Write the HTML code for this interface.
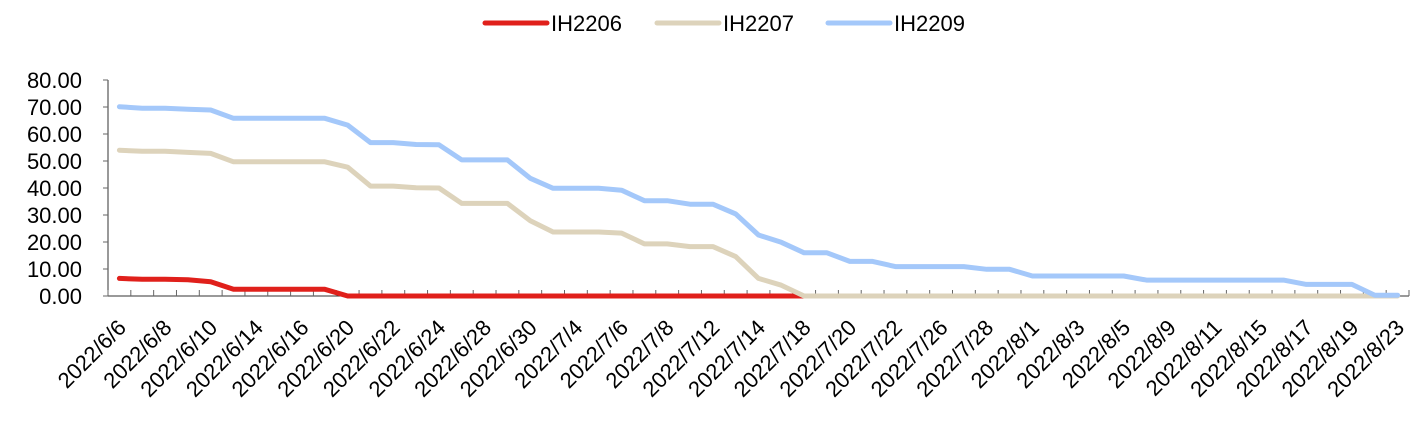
<!DOCTYPE html>
<html><head><meta charset="utf-8"><style>
html,body{margin:0;padding:0;background:#fff;}
svg{display:block;font-family:"Liberation Sans",Arial,sans-serif;}
</style></head><body>
<svg id="chart" width="1425" height="426"></svg>
<script>
const categories=["2022/6/6","2022/6/7","2022/6/8","2022/6/9","2022/6/10","2022/6/13","2022/6/14","2022/6/15","2022/6/16","2022/6/17","2022/6/20","2022/6/21","2022/6/22","2022/6/23","2022/6/24","2022/6/27","2022/6/28","2022/6/29","2022/6/30","2022/7/1","2022/7/4","2022/7/5","2022/7/6","2022/7/7","2022/7/8","2022/7/11","2022/7/12","2022/7/13","2022/7/14","2022/7/15","2022/7/18","2022/7/19","2022/7/20","2022/7/21","2022/7/22","2022/7/25","2022/7/26","2022/7/27","2022/7/28","2022/7/29","2022/8/1","2022/8/2","2022/8/3","2022/8/4","2022/8/5","2022/8/8","2022/8/9","2022/8/10","2022/8/11","2022/8/12","2022/8/15","2022/8/16","2022/8/17","2022/8/18","2022/8/19","2022/8/22","2022/8/23"];
const ih2206=[6.5,6.2,6.2,6.0,5.3,2.5,2.5,2.5,2.5,2.5,0,0,0,0,0,0,0,0,0,0,0,0,0,0,0,0,0,0,0,0,0];
const ih2207=[54,53.6,53.6,53.2,52.8,49.7,49.7,49.7,49.7,49.7,47.7,40.7,40.7,40.1,40,34.3,34.3,34.3,27.9,23.7,23.7,23.7,23.3,19.3,19.3,18.3,18.3,14.6,6.5,4,0,0,0,0,0,0,0,0,0,0,0,0,0,0,0,0,0,0,0,0,0,0,0,0,0,0,0];
const ih2209=[70.1,69.5,69.5,69.2,68.9,65.8,65.8,65.8,65.8,65.8,63.3,56.8,56.8,56.1,56,50.4,50.4,50.4,43.6,39.9,39.9,39.9,39.2,35.3,35.3,34,34,30.4,22.6,19.9,16,16,12.8,12.8,10.9,10.9,10.9,10.9,9.9,9.9,7.4,7.4,7.4,7.4,7.4,5.9,5.9,5.9,5.9,5.9,5.9,5.9,4.3,4.3,4.3,0.3,0.3];
const yTicks=[0,10,20,30,40,50,60,70,80];
const seriesNames=["IH2206","IH2207","IH2209"];
const seriesColors=["#e0201b","#ddd3bb","#a4c8fa"];

const svg=document.getElementById('chart');
const NS='http://www.w3.org/2000/svg';
const X0=108,X1=1409,Y0=296,Y1=80,YMAX=80;
const bw=(X1-X0)/categories.length;
function xs(i){return X0+bw*(i+0.5);}
function ys(v){return Y0-(v/YMAX)*(Y0-Y1);}
function mk(tag,attrs){const e=document.createElementNS(NS,tag);for(const k in attrs)e.setAttribute(k,attrs[k]);svg.appendChild(e);return e;}

// y axis
let e=mk('line',{x1:X0,y1:Y1,x2:X0,y2:Y0,stroke:'#333','stroke-width':1});


yTicks.forEach(v=>{
  const t=mk('line',{x1:X0-5,y1:ys(v),x2:X0,y2:ys(v),stroke:'#666','stroke-width':1});
  
  
  const l=mk('text',{x:82,y:ys(v)+8,'text-anchor':'end','font-size':22,fill:'#000'});
  l.textContent=v.toFixed(2);
  
  
});
// x axis
e=mk('line',{x1:X0,y1:Y0,x2:X1,y2:Y0,stroke:'#333','stroke-width':1});


for(let i=0;i<=categories.length;i++){
  const x=X0+bw*i;
  const t=mk('line',{x1:x,y1:Y0-6,x2:x,y2:Y0,stroke:'#666','stroke-width':1});
  
  
}
categories.forEach((c,i)=>{
  if(i%2!==0)return;
  const x=xs(i)+8,y=329;
  const l=mk('text',{x:x,y:y,'text-anchor':'end','font-size':22,fill:'#000',transform:`rotate(-45 ${x} ${y})`});
  l.textContent=c;
  
  
});
// series
[ih2206,ih2207,ih2209].forEach((arr,s)=>{
  const pts=arr.map((v,i)=>xs(i).toFixed(1)+','+ys(v).toFixed(1)).join(' ');
  const p=mk('polyline',{points:pts,fill:'none',stroke:seriesColors[s],'stroke-width':5,'stroke-linejoin':'round','stroke-linecap':'round'});
  
  
});
// legend
const lx=[485,657,828];
seriesNames.forEach((n,s)=>{
  const ln=mk('line',{x1:lx[s],y1:23,x2:lx[s]+62,y2:23,stroke:seriesColors[s],'stroke-width':5,'stroke-linecap':'round'});
  
  
  const t=mk('text',{x:lx[s]+66,y:31,'font-size':22,fill:'#000'});
  t.textContent=n;
  
  
});
</script>
</body></html>
